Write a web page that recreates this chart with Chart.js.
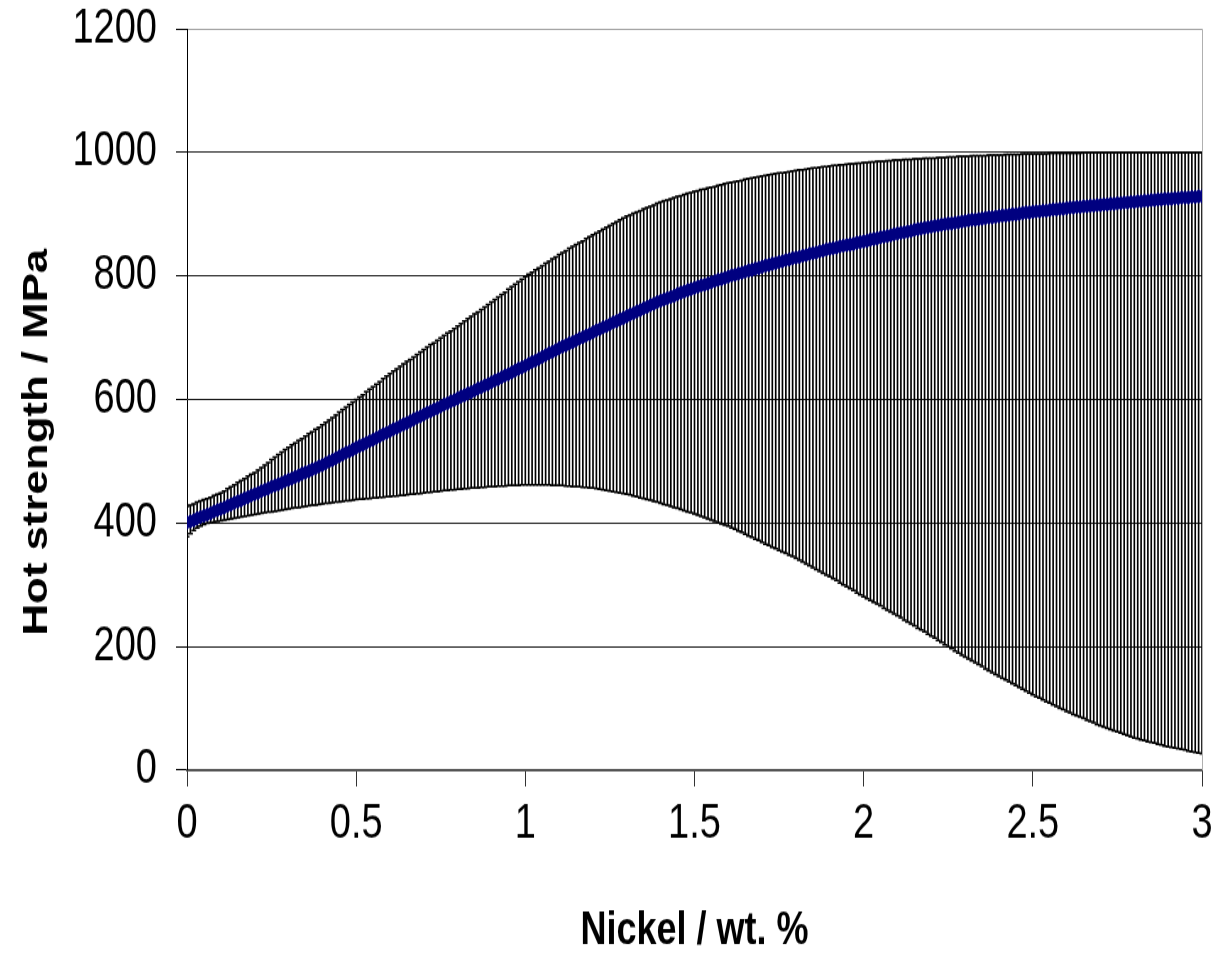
<!DOCTYPE html>
<html>
<head>
<meta charset="utf-8">
<title>Hot strength vs nickel</title>
<script src="https://cdn.jsdelivr.net/npm/chart.js@4.4.0/dist/chart.umd.min.js"></script>
<style>
body { margin: 0; background: #fff; }
</style>
</head>
<body>
<!-- the original picture is stretched vertically, so the canvas is drawn short and shown tall -->
<canvas id="chart" width="1218" height="763" style="width:1218px;height:954px;display:block"></canvas>
<script>
// nickel content runs 0 .. 3 wt.% in steps of 0.01 (one error bar per step)
var nickelStep = 0.01;

// predicted hot strength (MPa)
var meanStrength = [
    401,403,405,408,410,412,414,416,419,421,
    423,425,428,430,433,435,437,440,442,445,
    447,449,452,454,456,459,461,463,465,468,
    470,472,475,477,480,482,484,487,489,492,
    494,497,500,502,505,508,511,514,516,519,
    522,525,527,530,533,535,538,541,544,546,
    549,552,554,557,560,562,565,568,571,573,
    576,579,581,584,586,589,592,594,597,599,
    602,605,607,610,612,615,618,620,623,625,
    628,631,633,636,639,641,644,647,650,652,
    655,658,661,663,666,669,672,675,677,680,
    683,686,688,691,693,696,699,701,704,706,
    709,712,714,717,719,722,725,727,730,732,
    735,738,740,743,745,748,750,753,755,758,
    760,762,764,766,768,771,773,775,777,779,
    781,783,785,786,788,790,792,794,795,797,
    799,801,802,804,805,807,809,810,812,813,
    815,817,818,820,821,823,824,826,827,829,
    830,831,833,834,836,837,838,840,841,843,
    844,845,846,848,849,850,851,852,854,855,
    856,857,859,860,861,863,864,865,866,868,
    869,870,871,872,873,875,876,877,878,879,
    880,881,882,883,884,885,885,886,887,888,
    889,890,891,891,892,893,894,895,895,896,
    897,898,898,899,900,900,901,902,903,903,
    904,905,905,906,906,907,908,908,909,909,
    910,911,911,912,912,913,913,914,914,915,
    915,916,916,917,917,918,918,919,919,920,
    920,921,921,922,922,923,923,924,924,925,
    925,925,926,926,927,927,927,928,928,929,
    929
];

// top of the error bars
var upperStrength = [
    427,429,431,434,436,438,440,442,445,447,
    449,452,456,459,462,466,469,472,476,479,
    482,486,490,494,498,503,507,511,515,519,
    523,527,530,534,537,541,545,548,552,555,
    559,563,567,571,575,580,584,588,592,596,
    600,604,608,613,617,621,625,629,634,638,
    642,646,650,654,658,662,665,669,673,677,
    681,685,689,692,696,700,704,708,711,715,
    719,723,727,731,735,739,742,746,750,754,
    758,762,766,770,774,779,783,787,791,795,
    799,803,806,810,813,817,821,824,828,831,
    835,838,841,845,848,851,854,857,861,864,
    867,870,873,876,879,882,885,888,891,894,
    897,899,902,904,906,909,911,913,915,918,
    920,922,923,925,927,929,930,932,934,935,
    937,938,940,941,943,944,945,947,948,950,
    951,952,953,954,955,957,958,959,960,961,
    962,963,964,965,966,967,967,968,969,970,
    971,972,972,973,974,975,975,976,977,977,
    978,979,979,980,980,981,982,982,983,983,
    984,984,985,985,986,986,986,987,987,988,
    988,988,989,989,989,990,990,990,991,991,
    991,991,992,992,992,993,993,993,994,994,
    994,994,995,995,995,995,995,996,996,996,
    996,996,997,997,997,997,997,998,998,998,
    998,998,998,998,998,999,999,999,999,999,
    999,999,999,999,999,1000,1000,1000,1000,1000,
    1000,1000,1000,1000,1000,1000,1000,1000,1000,1000,
    1000,1000,1000,1000,1000,1000,1000,1000,1000,1000,
    1000,1000,1000,1000,1000,1000,1000,1000,1000,1000,
    1000
];

// bottom of the error bars
var lowerStrength = [
    378,383,388,392,395,398,400,401,402,403,
    404,405,406,407,408,409,410,411,412,413,
    414,415,416,417,418,418,419,420,421,422,
    423,424,425,425,426,427,428,429,429,430,
    431,432,432,433,434,434,435,436,436,437,
    438,439,439,440,440,441,441,442,442,443,
    443,444,444,445,445,446,447,447,448,448,
    449,450,450,451,451,452,453,453,454,454,
    455,455,456,456,457,457,457,458,458,459,
    459,459,460,460,460,461,461,461,461,462,
    462,462,462,462,462,462,462,462,461,461,
    461,461,460,460,459,459,459,458,458,457,
    457,456,455,454,453,452,451,450,449,448,
    447,446,444,443,441,440,438,437,435,434,
    432,430,429,427,425,424,422,420,418,417,
    415,413,411,409,407,405,403,401,399,397,
    395,392,390,387,385,382,379,377,374,372,
    369,366,364,361,359,356,353,351,348,346,
    343,340,337,334,331,328,325,322,319,316,
    313,310,307,303,300,297,294,291,287,284,
    281,278,275,272,269,266,262,259,256,253,
    250,247,243,240,237,234,230,227,224,220,
    217,214,210,207,203,200,197,193,190,186,
    183,180,177,174,171,168,164,161,158,155,
    152,149,146,143,140,137,134,131,128,125,
    122,119,117,114,111,109,106,103,100,98,
    95,93,90,88,86,84,81,79,77,74,
    72,70,68,66,64,62,60,58,56,54,
    52,51,49,48,46,45,44,42,41,39,
    38,37,36,35,34,33,31,30,29,28,
    27
];

var xTicks = [0, 0.5, 1, 1.5, 2, 2.5, 3];
var yTicks = [0, 200, 400, 600, 800, 1000, 1200];

var nickel = meanStrength.map((v, i) => Math.round(i * nickelStep * 100) / 100);

var sansFont = "'Liberation Sans', Arial, sans-serif";

// light grey frame on the right of the plot area
var frame = {
    id: "frame",
    beforeDatasetsDraw(chart) {
        const a = chart.chartArea;
        const ctx = chart.ctx;
        ctx.save();
        ctx.strokeStyle = "#b0b0b0";
        ctx.lineWidth = 1;
        ctx.beginPath();
        ctx.moveTo(a.right + 0.5, a.top);
        ctx.lineTo(a.right + 0.5, a.bottom);
        ctx.stroke();
        ctx.restore();
    }
};

const ctx = document.getElementById("chart").getContext("2d");
const myChart = new Chart(ctx, {
    type: "bar",
    data: {
        datasets: [
            {
                type: "line",
                label: "Mean",
                data: nickel.map((x, i) => ({x: x, y: meanStrength[i]})),
                borderColor: "#000080",
                backgroundColor: "#000080",
                borderWidth: 5,
                pointRadius: 2.5,
                pointStyle: "rectRot",
                tension: 0,
                order: 0
            },
            {
                type: "scatter",
                label: "Upper",
                data: nickel.map((x, i) => ({x: x, y: upperStrength[i]})),
                pointStyle: "line",
                pointRadius: 2.5,
                borderColor: "#000",
                borderWidth: 1.5,
                order: 1
            },
            {
                type: "scatter",
                label: "Lower",
                data: nickel.map((x, i) => ({x: x, y: lowerStrength[i]})),
                pointStyle: "line",
                pointRadius: 2.5,
                borderColor: "#000",
                borderWidth: 1.5,
                order: 1
            },
            {
                type: "bar",
                label: "Range",
                data: nickel.map((x, i) => ({x: x, y: [lowerStrength[i], upperStrength[i]]})),
                backgroundColor: "#000",
                borderWidth: 0,
                barThickness: 1,
                order: 2
            }
        ]
    },
    options: {
        responsive: false,
        animation: false,
        events: [],
        layout: {padding: {top: 0, right: 0, left: 0, bottom: 0}},
        plugins: {legend: {display: false}, tooltip: {enabled: false}},
        scales: {
            x: {
                type: "linear",
                min: 0,
                max: 3,
                offset: false,
                afterBuildTicks: s => { s.ticks = xTicks.map(v => ({value: v})); },
                afterFit: s => { s.height = 147; s.paddingRight = 16; },
                grid: {offset: false, drawOnChartArea: false, drawTicks: true, tickLength: 13, color: "#333", tickWidth: 1},
                border: {display: true, color: "#555", width: 2},
                ticks: {color: "#000", padding: 8, callback: v => String(v), font: {family: sansFont, size: 38}},
                title: {
                    display: true,
                    text: "Nickel / wt. %",
                    color: "#000",
                    font: {family: sansFont, size: 36, weight: "bold", lineHeight: 1},
                    padding: {top: 0, bottom: 0}
                }
            },
            y: {
                min: 0,
                max: 1200,
                afterBuildTicks: s => { s.ticks = yTicks.map(v => ({value: v})); },
                afterFit: s => { s.width = 187; },
                grid: {
                    color: c => (c.tick && c.tick.value == 1200) ? "#a0a0a0" : "#1a1a1a",
                    tickColor: "#000",
                    tickLength: 11,
                    lineWidth: 1
                },
                border: {display: true, color: "#000", width: 1},
                ticks: {color: "#000", padding: 19, callback: v => String(v), font: {family: sansFont, size: 38, lineHeight: 0.22}},
                title: {
                    display: true,
                    // trailing spaces push the title towards the bottom, as in the original
                    text: "Hot strength / MPa       ",
                    color: "#000",
                    font: {family: sansFont, size: 35, weight: "bold"},
                    padding: {top: 16, bottom: 0}
                }
            }
        }
    },
    plugins: [frame]
});
</script>
</body>
</html>
